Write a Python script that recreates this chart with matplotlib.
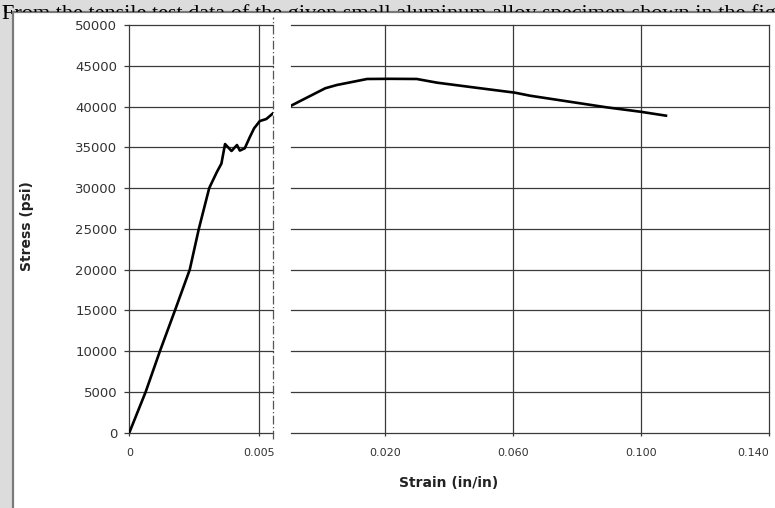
import matplotlib
matplotlib.use("Agg")
import matplotlib.pyplot as plt
from matplotlib.patches import Rectangle
from matplotlib.transforms import Bbox, TransformedBbox

# ---- data ----
left_strain = [0.0, 0.00063, 0.00118, 0.00176, 0.00233, 0.00268, 0.00308, 0.00338,
               0.00355, 0.00369, 0.00394, 0.00415, 0.00426, 0.00445, 0.00464,
               0.00481, 0.00503, 0.00528, 0.00554]
left_stress = [0, 5000, 10000, 15000, 20000, 25000, 30000, 32000,
               33000, 35400, 34550, 35280, 34600, 34880, 36220,
               37330, 38220, 38470, 39170]

right_strain = [-0.0094, 0.0013, 0.0049, 0.0144, 0.0215, 0.0299, 0.0362, 0.0480,
                0.0606, 0.0653, 0.0809, 0.0893, 0.0997, 0.1078]
right_stress = [40100, 42240, 42640, 43380, 43400, 43380, 42930, 42330,
                41700, 41330, 40400, 39900, 39370, 38880]

y_ticks = [0, 5000, 10000, 15000, 20000, 25000, 30000, 35000, 40000, 45000, 50000]
left_xticks = [0, 0.005]
left_xticklabels = ["0", "0.005"]
right_xticks = [0.020, 0.060, 0.100, 0.140]
right_xticklabels = ["0.020", "0.060", "0.100", "0.140"]

y_label = "Stress (psi)"
x_label = "Strain (in/in)"
page_text = "From the tensile test data of the given small aluminum alloy specimen shown in the figure, determine"

W, H = 775, 508
fig = plt.figure(figsize=(W / 100, H / 100), dpi=100, facecolor="#dcdcdc")


def fx(px):
    return px / W


def fy(py):
    return 1 - py / H


# chart-image box (white with grey frame)
fig.patches.append(Rectangle((fx(12.5), -0.05), 1.2, fy(12.5) + 0.05,
                             transform=fig.transFigure, facecolor="white",
                             edgecolor="#7a7a7a", lw=1.6, zorder=-1))

# page text, only visible outside the chart box
band_top = TransformedBbox(Bbox([[0, fy(11.7)], [1, 1]]), fig.transFigure)
band_left = TransformedBbox(Bbox([[0, 0], [fx(11.7), 1]]), fig.transFigure)
for clip in (band_top, band_left):
    t = fig.text(fx(2), fy(18.5), page_text, family="Liberation Serif", fontsize=16,
                 va="baseline", ha="left", color="black")
    t.set_clip_box(clip)
    t.set_clip_on(True)

grid_col = "#3a3a3a"
grid_lw = 0.9
top, bot = 25, 432.7

axL = fig.add_axes([fx(129.3), fy(bot), fx(273.3) - fx(129.3), fy(top) - fy(bot)])
axR = fig.add_axes([fx(291), fy(bot), fx(769) - fx(291), fy(top) - fy(bot)])

for ax in (axL, axR):
    ax.set_facecolor("none")
    for s in ax.spines.values():
        s.set_visible(False)
    ax.set_ylim(0, 50000)
    ax.set_yticks(y_ticks)
    ax.grid(True, color=grid_col, lw=grid_lw)
    ax.tick_params(axis="x", direction="out", length=2.2, width=0.9, color=grid_col,
                   labelsize=8, labelcolor="#333333", pad=9)
    for ln in ax.get_xgridlines() + ax.get_ygridlines():
        ln.set_clip_on(False)

axL.set_xlim(0, 0.00555)
axL.set_xticks(left_xticks)
axL.set_xticklabels(left_xticklabels)
axL.set_yticklabels([str(v) for v in y_ticks])
axL.tick_params(axis="y", direction="out", length=3.6, width=0.9, color=grid_col,
                labelsize=9.5, labelcolor="#333333", pad=5)
axL.plot(left_strain, left_stress, color="black", lw=1.9, solid_joinstyle="round", zorder=3)
axL.axvline(0.00555, ymin=-0.015, ymax=1.02, color="#555555", lw=0.9,
            linestyle=(0, (7, 2, 1, 2)), clip_on=False)

axR.set_xlim(-0.0094, 0.140)
axR.set_xticks(right_xticks)
axR.set_xticklabels(right_xticklabels)
axR.get_xticklabels()[-1].set_horizontalalignment("right")
axR.tick_params(axis="y", left=False, labelleft=False)
axR.plot(right_strain, right_stress, color="black", lw=1.9, solid_joinstyle="round", zorder=3)

fig.text(fx(27), fy(226), y_label, rotation=90, fontweight="bold", fontsize=10,
         ha="center", va="center", color="#222222")
fig.text(fx(449), fy(483), x_label, fontweight="bold", fontsize=10,
         ha="center", va="center", color="#222222")

fig.savefig("out.png", dpi=100, facecolor=fig.get_facecolor())
